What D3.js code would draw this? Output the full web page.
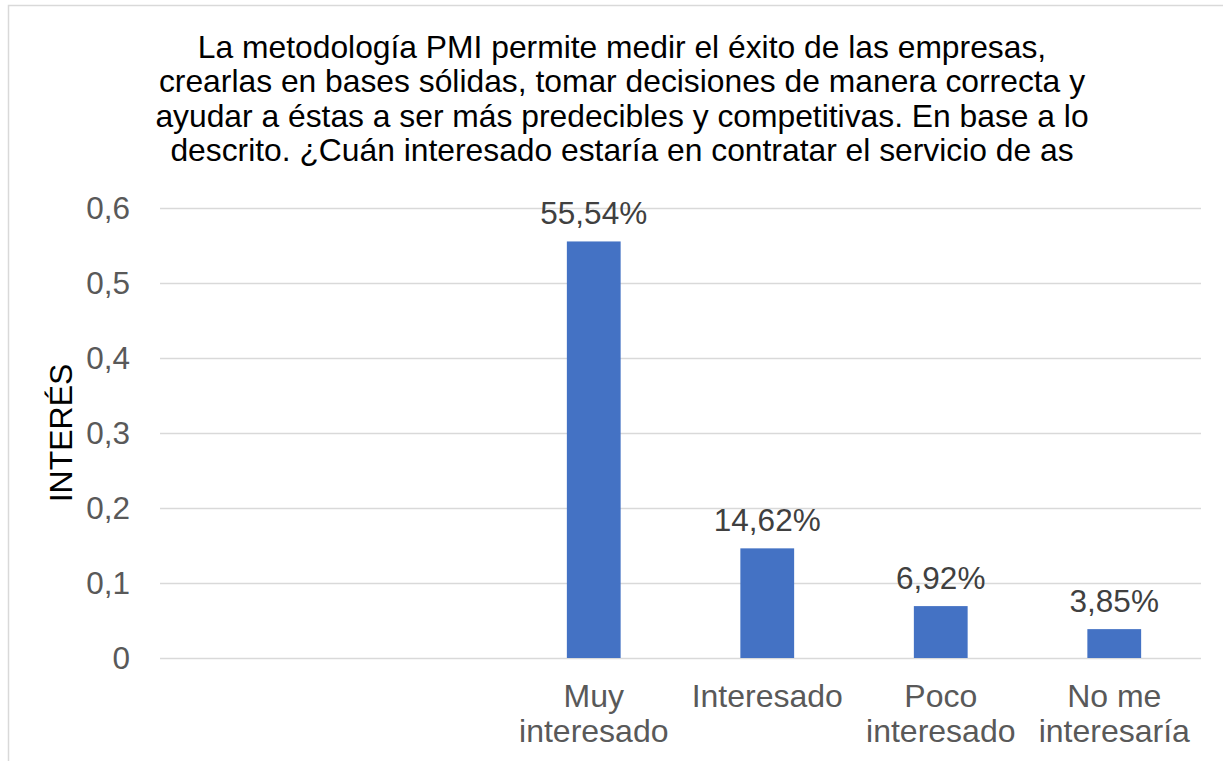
<!DOCTYPE html>
<html>
<head>
<meta charset="utf-8">
<script src="https://cdn.jsdelivr.net/npm/d3@7"></script>
<style>
  body { margin: 0; background: #fff; }
  text { font-family: "Liberation Sans", Arial, sans-serif; }
</style>
</head>
<body>
<svg id="chart" width="1223" height="761"></svg>
<script>
// categories (the first two are empty in the source sheet)
const categories = ["c0", "c1", "c2", "c3", "c4", "c5"];
const categoryLabels = [[], [], ["Muy", "interesado"], ["Interesado"], ["Poco", "interesado"], ["No me", "interesaría"]];
const values = [null, null, 0.5554, 0.1462, 0.0692, 0.0385];
const yTicks = [0, 0.1, 0.2, 0.3, 0.4, 0.5, 0.6];
const titleLines = [
    "La metodología PMI permite medir el éxito de las empresas,",
    "crearlas en bases sólidas, tomar decisiones de manera correcta y",
    "ayudar a éstas a ser más predecibles y competitivas. En base a lo",
    "descrito. ¿Cuán interesado estaría en contratar el servicio de as"
];
const yLabel = "INTERÉS";

const margin = { top: 208, right: 22, bottom: 103, left: 160 };
const svg = d3.select("#chart");
const W = +svg.attr("width"), H = +svg.attr("height");
const width = W - margin.left - margin.right;
const height = H - margin.top - margin.bottom;

const locale = d3.formatLocale({ decimal: ",", thousands: ".", grouping: [3], currency: ["", "€"] });
const tickFmt = locale.format("~g");
const pctFmt = locale.format(".2%");

// chart border
svg.append("rect")
    .attr("x", 8.5).attr("y", 5.5)
    .attr("width", W + 20).attr("height", H + 20)
    .attr("fill", "none")
    .attr("stroke", "#d9d9d9")
    .attr("stroke-width", 1.5);

// title
svg.append("text")
    .attr("text-anchor", "middle")
    .attr("font-size", 31.8)
    .attr("fill", "#000")
    .selectAll("tspan")
    .data(titleLines)
    .join("tspan")
    .attr("x", 622)
    .attr("y", (d, i) => 58 + i * 34.4)
    .text(d => d);

const g = svg.append("g").attr("transform", "translate(" + margin.left + "," + margin.top + ")");

let xScale = d3.scaleBand()
    .domain(categories)
    .range([0, width])
    .paddingInner(0.69)
    .paddingOuter(0.345);

let yScale = d3.scaleLinear()
    .domain([0, 0.6])
    .range([height, 0]);

// gridlines
g.append("g")
    .attr("class", "grid")
    .call(d3.axisLeft(yScale).tickValues(yTicks).tickSize(-width).tickFormat(""))
    .call(s => s.select(".domain").remove())
    .call(s => s.selectAll("line").attr("stroke", "#d9d9d9").attr("stroke-width", 1.5));

// y tick labels
g.append("g")
    .attr("transform", "translate(-30,0)")
    .call(d3.axisLeft(yScale).tickValues(yTicks).tickSize(0).tickPadding(0).tickFormat(tickFmt))
    .call(s => s.select(".domain").remove())
    .call(s => s.selectAll("text")
        .attr("font-size", 31.5)
        .attr("fill", "#595959")
        .attr("font-family", "Liberation Sans, Arial, sans-serif"));

// bars
g.selectAll("rect.bar")
    .data(categories.map((c, i) => ({ c: c, v: values[i] })).filter(d => d.v != null))
    .join("rect")
    .attr("class", "bar")
    .attr("x", d => xScale(d.c))
    .attr("width", xScale.bandwidth())
    .attr("y", d => yScale(d.v))
    .attr("height", d => yScale(0) - yScale(d.v))
    .attr("fill", "#4472c4");

// data labels
g.selectAll("text.dlabel")
    .data(categories.map((c, i) => ({ c: c, v: values[i] })).filter(d => d.v != null))
    .join("text")
    .attr("class", "dlabel")
    .attr("x", d => xScale(d.c) + xScale.bandwidth() / 2)
    .attr("y", d => yScale(d.v) - 17)
    .attr("text-anchor", "middle")
    .attr("font-size", 31.5)
    .attr("fill", "#404040")
    .text(d => pctFmt(d.v));

// category labels
categories.forEach(function (c, i) {
    g.append("text")
        .attr("text-anchor", "middle")
        .attr("font-size", 32)
        .attr("fill", "#595959")
        .selectAll("tspan")
        .data(categoryLabels[i])
        .join("tspan")
        .attr("x", xScale(c) + xScale.bandwidth() / 2)
        .attr("y", (d, j) => height + 48.5 + j * 35)
        .text(d => d);
});

// y axis title
svg.append("text")
    .attr("transform", "translate(72," + (margin.top + height / 2) + ") rotate(-90)")
    .attr("text-anchor", "middle")
    .attr("font-size", 32)
    .attr("fill", "#000")
    .text(yLabel);
</script>
</body>
</html>
